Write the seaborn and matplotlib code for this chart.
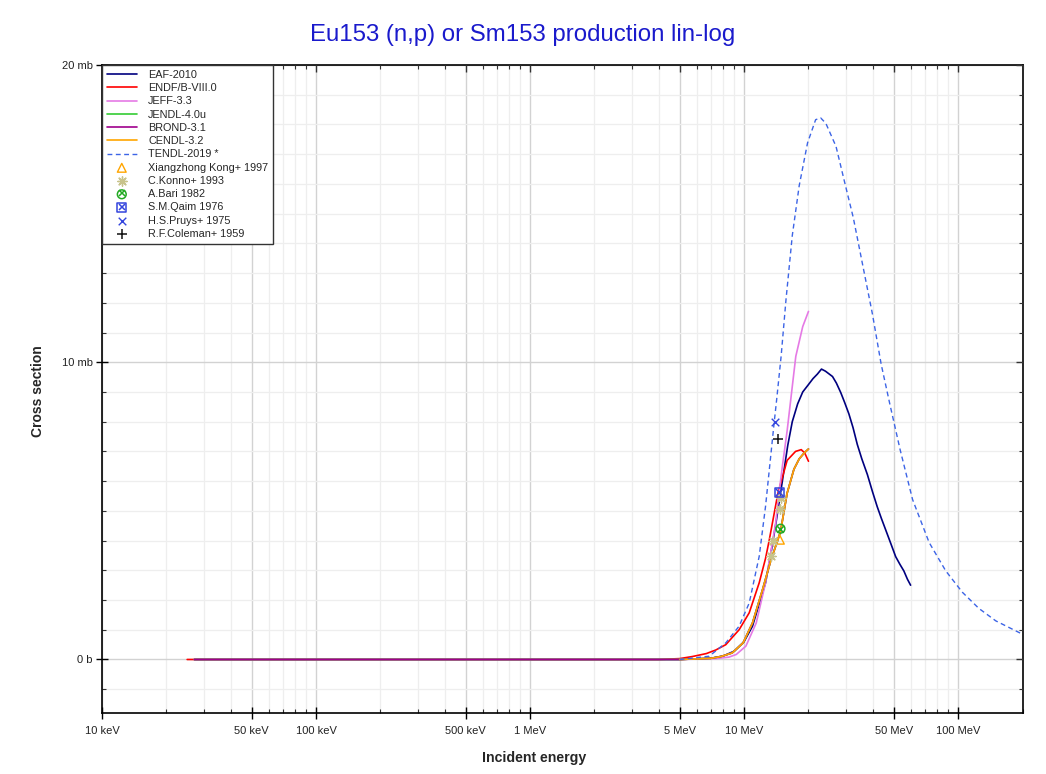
import matplotlib
matplotlib.use("Agg")
import matplotlib.pyplot as plt
import matplotlib.ticker as mticker
from matplotlib.lines import Line2D
import numpy as np
import pandas as pd
import seaborn as sns

# Energies in MeV, cross sections in mb
eaf_e = [0.027, 0.1, 1, 5, 7, 8, 9, 10, 10.95, 12.6, 13.3, 14.1, 15.1, 16.0, 16.8, 17.8,
         18.8, 20.0, 21.0, 22.0, 23.0, 24.0, 25.9, 27.0, 28.3, 29.5, 30.9, 32.3, 33.8, 35.5,
         37.7, 39.8, 41.9, 43.8, 45.9, 48.5, 51.1, 53.5, 55.8, 58.0, 60.0]
eaf_xs = [0, 0, 0, 0, 0.04, 0.12, 0.28, 0.6, 1.12, 2.58, 3.5, 4.6, 6.0, 7.2, 8.0, 8.6,
          9.0, 9.25, 9.45, 9.6, 9.77, 9.7, 9.52, 9.3, 8.98, 8.65, 8.26, 7.8, 7.24, 6.75,
          6.22, 5.65, 5.14, 4.75, 4.36, 3.9, 3.46, 3.2, 2.98, 2.7, 2.5]

endf_e = [0.025, 0.1, 1, 4, 5, 5.74, 6.67, 7.38, 8.22, 9.48, 10.57, 11.77, 12.6, 13.1,
          14.4, 15.9, 17.4, 18.5, 19.2, 20.0]
endf_xs = [0, 0, 0, 0, 0.03, 0.1, 0.2, 0.32, 0.5, 1.0, 1.57, 2.58, 3.4, 4.0,
           5.6, 6.7, 7.0, 7.06, 6.95, 6.67]

jeff_e = [0.027, 0.1, 1, 5, 7.38, 8.5, 9.2, 10.2, 11.4, 12.6, 14.06, 14.4, 15.1, 15.9,
          16.5, 17.45, 18.8, 20.0]
jeff_xs = [0, 0, 0, 0, 0.03, 0.08, 0.17, 0.45, 1.23, 2.58, 4.6, 5.3, 6.5, 7.7,
           8.7, 10.2, 11.2, 11.71]

jendl_e = [0.027, 0.1, 1, 5, 7.0, 7.8, 8.8, 9.9, 10.95, 12.2, 13.3, 14.8, 15.9, 17.1,
           18.1, 19.1, 20.0]
jendl_xs = [0, 0, 0, 0, 0.04, 0.1, 0.22, 0.56, 1.23, 2.35, 3.3, 4.3, 5.6, 6.4,
            6.75, 6.95, 7.08]

brond_e = [0.027, 0.1, 1, 5, 7.0, 7.8, 8.8, 9.9, 10.95, 12.2, 13.3, 14.8, 15.9, 17.1,
           18.1, 19.1, 20.0]
brond_xs = [0, 0, 0, 0, 0.04, 0.1, 0.22, 0.56, 1.23, 2.35, 3.3, 4.3, 5.6, 6.4,
            6.75, 6.95, 7.08]

cendl_e = [5.0, 7.0, 7.8, 8.8, 9.9, 10.95, 12.2, 13.3, 14.8, 15.9, 17.1, 18.1, 19.1, 20.0]
cendl_xs = [0, 0.04, 0.1, 0.22, 0.56, 1.23, 2.35, 3.3, 4.3, 5.6, 6.4, 6.75, 6.95, 7.08]

tendl_e = [5.0, 6.87, 8.22, 9.48, 10.57, 11.77, 12.6, 13.82, 14.2, 14.9, 15.7, 16.8, 18.1,
           19.8, 21.6, 22.8, 24.1, 26.9, 29.5, 32.4, 35.5, 39.8, 43.7, 47.9, 53.6, 61.3,
           73.2, 87.6, 104.8, 125, 150, 200]
tendl_xs = [0, 0.11, 0.56, 1.12, 1.9, 3.47, 5.15, 7.96, 8.74, 10.2, 12.1, 14.26, 15.94,
            17.38, 18.16, 18.22, 18.04, 17.26, 16.06, 14.86, 13.42, 11.62, 9.94, 8.62, 7.06, 5.38,
            3.94, 2.98, 2.26, 1.72, 1.3, 0.85]

# experimental points
kong_e, kong_xs = [14.7], [4.03]
konno_e, konno_xs = [13.3, 13.6, 14.7, 14.9], [3.47, 3.98, 5.07, 5.43]
bari_e, bari_xs = [14.8], [4.4]
qaim_e, qaim_xs = [14.6], [5.62]
pruys_e, pruys_xs = [13.9], [8.0]
coleman_e, coleman_xs = [14.45], [7.42]

x_ticks = [0.01, 0.05, 0.1, 0.5, 1, 5, 10, 50, 100]
x_labels = ["10 keV", "50 keV", "100 keV", "500 keV", "1 MeV", "5 MeV", "10 MeV", "50 MeV", "100 MeV"]
y_ticks = [0, 10, 20]
y_labels = ["0 b", "10 mb", "20 mb"]

sns.set_style("white")
plt.rcParams["font.family"] = ["Liberation Sans", "DejaVu Sans"]

fig = plt.figure(figsize=(10.46, 7.74), dpi=100)
ax = fig.add_axes([102 / 1046, 1 - 713 / 774, (1022.5 - 102) / 1046, (713 - 65) / 774])
ax.set_axisbelow(True)

curves = [
    ("EAF-2010", eaf_e, eaf_xs, "#00007f"),
    ("ENDF/B-VIII.0", endf_e, endf_xs, "#ff0000"),
    ("JEFF-3.3", jeff_e, jeff_xs, "#e57ae5"),
    ("JENDL-4.0u", jendl_e, jendl_xs, "#33cc33"),
    ("BROND-3.1", brond_e, brond_xs, "#a0008c"),
    ("CENDL-3.2", cendl_e, cendl_xs, "#ffa500"),
]
for name, e, xs, col in curves:
    df = pd.DataFrame({"energy": e, "xs": xs})
    sns.lineplot(data=df, x="energy", y="xs", ax=ax, color=col, linewidth=1.2,
                 label=name, sort=False, estimator=None)

df_t = pd.DataFrame({"energy": tendl_e, "xs": tendl_xs})
sns.lineplot(data=df_t, x="energy", y="xs", ax=ax, color="#3c64e6", linewidth=1.0,
             linestyle=(0, (3.5, 2.5)), label="TENDL-2019 *", sort=False, estimator=None)

sns.scatterplot(x=kong_e, y=kong_xs, ax=ax, marker="^", s=40, facecolor="none",
                edgecolor="#ffa500", linewidth=1.0, label="Xiangzhong Kong+ 1997", zorder=5)
sns.scatterplot(x=konno_e, y=konno_xs, ax=ax, marker=(8, 2, 0), s=45, color="#c8c38c",
                linewidth=1.0, label="C.Konno+ 1993", zorder=5)
sns.scatterplot(x=bari_e, y=bari_xs, ax=ax, marker="o", s=40, facecolor="none",
                edgecolor="#22aa22", linewidth=1.1, label="A.Bari 1982", zorder=5)
sns.scatterplot(x=bari_e, y=bari_xs, ax=ax, marker="x", s=22, color="#22aa22",
                linewidth=1.1, zorder=5)
sns.scatterplot(x=qaim_e, y=qaim_xs, ax=ax, marker="s", s=40, facecolor="none",
                edgecolor="#3344dd", linewidth=1.1, label="S.M.Qaim 1976", zorder=5)
sns.scatterplot(x=qaim_e, y=qaim_xs, ax=ax, marker="x", s=28, color="#3344dd",
                linewidth=1.1, zorder=5)
sns.scatterplot(x=pruys_e, y=pruys_xs, ax=ax, marker="x", s=30, color="#3344dd",
                linewidth=1.0, label="H.S.Pruys+ 1975", zorder=5)
sns.scatterplot(x=coleman_e, y=coleman_xs, ax=ax, marker="+", s=50, color="#111111",
                linewidth=1.1, label="R.F.Coleman+ 1959", zorder=5)

ax.set_xscale("log")
ax.set_xlim(0.01, 200)
ax.set_ylim(-1.8, 20)

minor_x = [k * 10.0 ** d for d in range(-2, 3) for k in (2, 3, 4, 6, 7, 8, 9)]
minor_x = [m for m in minor_x if 0.01 < m <= 200]
minor_y = list(range(-1, 20))


def set_x_locators(a):
    a.xaxis.set_major_locator(mticker.FixedLocator(x_ticks))
    a.xaxis.set_minor_locator(mticker.FixedLocator(minor_x))
    a.xaxis.set_minor_formatter(mticker.NullFormatter())


def set_y_locators(a):
    a.yaxis.set_major_locator(mticker.FixedLocator(y_ticks))
    a.yaxis.set_minor_locator(mticker.FixedLocator(minor_y))
    a.yaxis.set_minor_formatter(mticker.NullFormatter())


set_x_locators(ax)
set_y_locators(ax)
ax.xaxis.set_major_formatter(mticker.FixedFormatter(x_labels))
ax.yaxis.set_major_formatter(mticker.FixedFormatter(y_labels))

ax.tick_params(which="major", direction="inout", length=8, width=1, labelsize=8,
               top=False, right=False, colors="black", labelcolor="#222222")
ax.tick_params(axis="x", which="major", pad=5)
ax.tick_params(axis="y", which="major", pad=2.7)
ax.tick_params(which="minor", direction="in", length=3, width=0.8,
               top=False, right=False, colors="#333333")
ax.grid(which="major", color="#d2d2d2", linewidth=1.0)
ax.grid(which="minor", color="#eeeeee", linewidth=0.9)
for sp in ax.spines.values():
    sp.set_color("black")
    sp.set_linewidth(1.2)
ax.set_xlabel("")
ax.set_ylabel("")
if ax.get_legend() is not None:
    ax.get_legend().remove()

# inward ticks on the top and right edges
axt = ax.twiny()
axt.set_xscale("log")
axt.set_xlim(ax.get_xlim())
set_x_locators(axt)
axt.xaxis.set_major_formatter(mticker.NullFormatter())
axt.tick_params(axis="x", which="major", direction="in", length=5, width=1, colors="#333333",
                top=True, bottom=False, labeltop=False, labelbottom=False)
axt.tick_params(axis="x", which="minor", direction="in", length=3, width=0.8, colors="#333333",
                top=True, bottom=False)

axr = ax.twinx()
axr.set_ylim(ax.get_ylim())
set_y_locators(axr)
axr.yaxis.set_major_formatter(mticker.NullFormatter())
axr.tick_params(axis="y", which="major", direction="in", length=5, width=1, colors="#333333",
                right=True, left=False, labelright=False, labelleft=False)
axr.tick_params(axis="y", which="minor", direction="in", length=3, width=0.8, colors="#333333",
                right=True, left=False)
for a in (axt, axr):
    a.grid(False)
    for sp in a.spines.values():
        sp.set_visible(False)

handles, labels = ax.get_legend_handles_labels()
hmap = dict(zip(labels, handles))
order = ["EAF-2010", "ENDF/B-VIII.0", "JEFF-3.3", "JENDL-4.0u", "BROND-3.1", "CENDL-3.2",
         "TENDL-2019 *", "Xiangzhong Kong+ 1997", "C.Konno+ 1993", "A.Bari 1982",
         "S.M.Qaim 1976", "H.S.Pruys+ 1975", "R.F.Coleman+ 1959"]
leg_handles = [hmap[lab] for lab in order]
bari_x = Line2D([], [], marker="x", color="#22aa22", linestyle="none", markersize=4.5, mew=1.1)
qaim_x = Line2D([], [], marker="x", color="#3344dd", linestyle="none", markersize=5, mew=1.1)
leg_handles[9] = (hmap["A.Bari 1982"], bari_x)
leg_handles[10] = (hmap["S.M.Qaim 1976"], qaim_x)

leg = axr.legend(leg_handles, order, loc="upper left", bbox_to_anchor=(0, 1),
                 bbox_transform=ax.transAxes, borderaxespad=0, fontsize=7.8,
                 handlelength=2.75, handletextpad=1.05, labelspacing=0.3, borderpad=0.45,
                 fancybox=False, framealpha=1, edgecolor="#333333", scatterpoints=1)
leg.get_frame().set_linewidth(1.0)

fig.text(523 / 1046, 1 - 41 / 774, "Eu153 (n,p) or Sm153 production lin-log",
         ha="center", va="baseline", fontsize=17.3, color="#1a1acc")
fig.text(534 / 1046, 1 - 758 / 774, "Incident energy", ha="center", va="center",
         fontsize=10.2, fontweight="bold")
fig.text(38 / 1046, 1 - 391 / 774, "Cross section", ha="center", va="center",
         rotation=90, fontsize=10, fontweight="bold")

fig.savefig("out.png", dpi=100)
